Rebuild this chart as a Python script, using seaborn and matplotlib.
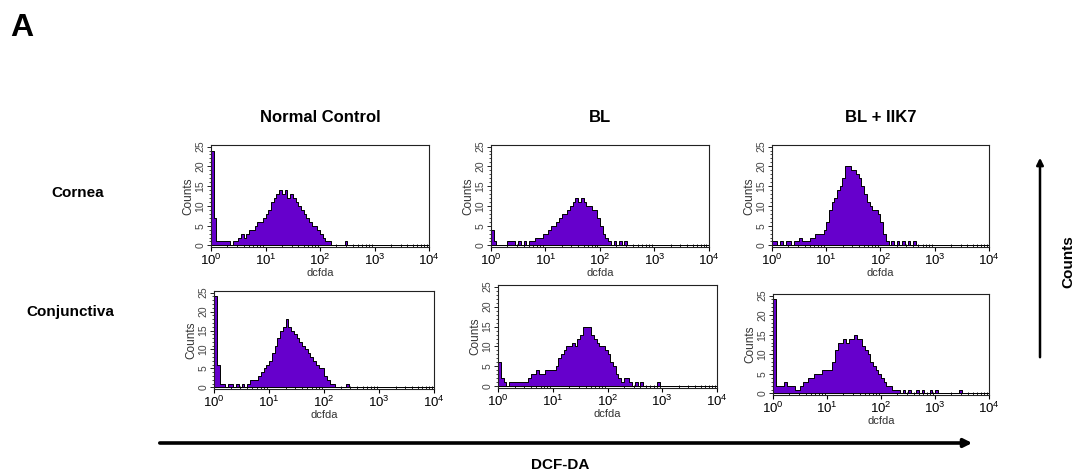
import numpy as np
import pandas as pd
import matplotlib.pyplot as plt
import seaborn as sns
from matplotlib.patches import FancyArrowPatch
from matplotlib.ticker import MultipleLocator, LogLocator, NullFormatter

# histogram counts per 0.05-decade channel, starting at 10^0
BIN_STEP = 0.05

nc_cornea = [24, 7, 1, 1, 1, 1, 1, 0, 1, 1, 2, 3, 2, 3, 4, 4, 5, 6, 6, 7,
             8, 9, 11, 12, 13, 14, 13, 14, 12, 13, 12, 11, 10, 9, 8, 7, 6, 5, 5, 4,
             3, 2, 1, 1, 0, 0, 0, 0, 0, 1]
bl_cornea = [4, 1, 0, 0, 0, 0, 1, 1, 1, 0, 1, 0, 1, 0, 1, 1, 2, 2, 2, 3,
             3, 4, 5, 5, 6, 7, 8, 8, 9, 10, 11, 12, 11, 12, 11, 10, 10, 9, 9, 7,
             5, 3, 2, 1, 0, 1, 0, 1, 0, 1]
iik7_cornea = [1, 1, 0, 1, 0, 1, 1, 0, 1, 1, 2, 1, 1, 1, 2, 2, 3, 3, 3, 4,
               6, 9, 11, 12, 14, 15, 17, 20, 20, 19, 19, 18, 17, 15, 13, 11, 10, 9, 9, 8,
               6, 3, 1, 0, 1, 0, 1, 0, 1, 0, 1, 0, 1]
nc_conj = [24, 6, 1, 1, 0, 1, 1, 0, 1, 0, 1, 0, 1, 2, 2, 2, 3, 4, 5, 6,
           7, 9, 11, 13, 15, 16, 18, 16, 15, 14, 13, 12, 11, 10, 9, 8, 7, 6, 5, 5,
           3, 2, 1, 1, 0, 0, 0, 0, 1]
bl_conj = [6, 2, 1, 0, 1, 1, 1, 1, 1, 1, 1, 2, 3, 3, 4, 3, 3, 4, 4, 4,
           4, 5, 7, 8, 9, 10, 10, 11, 10, 12, 13, 15, 15, 15, 13, 12, 11, 10, 10, 9,
           8, 6, 5, 3, 2, 1, 2, 2, 1, 0, 1, 0, 1, 0, 0, 0, 0, 0, 1]
iik7_conj = [24, 2, 2, 2, 3, 2, 2, 2, 1, 1, 2, 3, 3, 4, 4, 5, 5, 5, 6, 6,
             6, 6, 8, 11, 13, 13, 14, 13, 14, 14, 15, 14, 14, 12, 11, 10, 8, 7, 6, 5,
             4, 3, 2, 2, 1, 1, 1, 0, 1, 0, 1, 0, 0, 1, 0, 1, 0, 0, 1, 0,
             1, 0, 0, 0, 0, 0, 0, 0, 0, 1]

conditions = ["Normal Control", "BL", "BL + IIK7"]
tissues = ["Cornea", "Conjunctiva"]
panels = [[nc_cornea, bl_cornea, iik7_cornea],
          [nc_conj, bl_conj, iik7_conj]]

# axes boxes in figure fraction (pasted panels are slightly misaligned)
boxes = [[[0.1963, 0.4789, 0.2028, 0.2152], [0.4567, 0.4789, 0.2028, 0.2152], [0.7181, 0.4789, 0.2019, 0.2152]],
         [[0.1991, 0.1793, 0.2047, 0.2068], [0.4633, 0.1814, 0.2037, 0.2173], [0.7191, 0.1667, 0.2009, 0.2131]]]

sns.set_style("ticks")
plt.rcParams['font.family'] = ['Liberation Sans', 'DejaVu Sans']
plt.rcParams['text.color'] = 'black'
plt.rcParams['axes.labelcolor'] = 'black'
plt.rcParams['xtick.color'] = 'black'
plt.rcParams['ytick.color'] = 'black'

fig = plt.figure(figsize=(10.75, 4.74), dpi=100)
purple = "#6600cc"

for r, tissue in enumerate(tissues):
    for c, cond in enumerate(conditions):
        counts = panels[r][c]
        df = pd.DataFrame({
            "dcfda": 10 ** (np.arange(len(counts)) * BIN_STEP + BIN_STEP / 2),
            "n": counts,
        })
        ax = fig.add_axes(boxes[r][c])
        sns.histplot(data=df, x="dcfda", weights="n", log_scale=True,
                     binwidth=BIN_STEP, binrange=(0, 4), element="step",
                     fill=True, color=purple, edgecolor="black",
                     linewidth=0.7, alpha=1, ax=ax)
        ax.set_xlim(1, 1e4)
        ax.set_ylim(-0.4, 25.4)
        ax.xaxis.set_major_locator(LogLocator(base=10, numticks=10))
        ax.xaxis.set_minor_locator(LogLocator(base=10, subs=np.arange(2, 10), numticks=20))
        ax.xaxis.set_minor_formatter(NullFormatter())
        ax.yaxis.set_major_locator(MultipleLocator(5))
        ax.yaxis.set_minor_locator(MultipleLocator(1))
        ax.tick_params(axis='x', which='major', labelsize=9.5, length=3, width=0.8, pad=1)
        ax.tick_params(axis='x', which='minor', direction='in', length=2.5, width=0.6)
        ax.tick_params(axis='y', which='major', labelsize=7.5, length=3, width=0.6,
                       labelcolor="#444444", pad=1)
        ax.tick_params(axis='y', which='minor', length=1.5, width=0.5)
        plt.setp(ax.get_yticklabels(), rotation=90, va='center')
        ax.set_xlabel("dcfda", fontsize=8, color="#333333", labelpad=0)
        ax.set_ylabel("Counts", fontsize=8.5, color="#333333", labelpad=1)
        for sp in ax.spines.values():
            sp.set_visible(True)
            sp.set_linewidth(0.8)
            sp.set_color("#222222")

# column and row headings
for c, cond in enumerate(conditions):
    b = boxes[0][c]
    fig.text(b[0] + b[2] / 2, 1 - 117 / 474, cond, ha='center', va='center',
             fontsize=12, fontweight='bold')
fig.text(78 / 1075, 1 - 193 / 474, tissues[0], ha='center', va='center',
         fontsize=11, fontweight='bold')
fig.text(70 / 1075, 1 - 312 / 474, tissues[1], ha='center', va='center',
         fontsize=11, fontweight='bold')
fig.text(22 / 1075, 1 - 28 / 474, "A", ha='center', va='center',
         fontsize=23, fontweight='bold')

# axis arrows
fig.add_artist(FancyArrowPatch((157 / 1075, 1 - 443 / 474), (975 / 1075, 1 - 443 / 474),
                               transform=fig.transFigure, arrowstyle='-|>',
                               mutation_scale=12, lw=2.6, color='black'))
fig.add_artist(FancyArrowPatch((1040 / 1075, 1 - 360 / 474), (1040 / 1075, 1 - 155 / 474),
                               transform=fig.transFigure, arrowstyle='-|>',
                               mutation_scale=10, lw=1.8, color='black'))
fig.text(560 / 1075, 1 - 465 / 474, "DCF-DA", ha='center', va='center',
         fontsize=11, fontweight='bold')
fig.text(1068 / 1075, 1 - 262 / 474, "Counts", ha='center', va='center',
         rotation=90, fontsize=11, fontweight='bold')

fig.savefig("out.png", dpi=100)
